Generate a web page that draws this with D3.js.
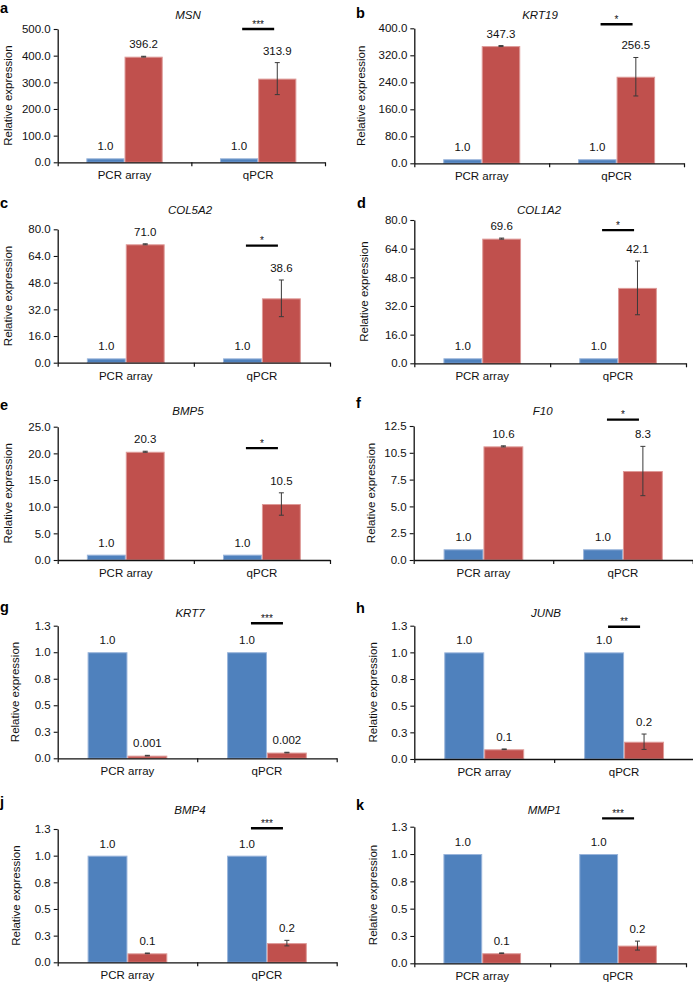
<!DOCTYPE html>
<html>
<head>
<meta charset="utf-8">
<script src="https://cdn.jsdelivr.net/npm/d3@7"></script>
<style>
  html, body { margin: 0; padding: 0; background: #fff; }
  svg { display: block; font-family: "Liberation Sans", Arial, Helvetica, sans-serif; }
</style>
</head>
<body>
<svg id="chart" width="693" height="985"></svg>
<script>
// ---------------- DATA ----------------
const panelLetters = ["a", "b", "c", "d", "e", "f", "g", "h", "j", "k"];
const geneNames = ["MSN", "KRT19", "COL5A2", "COL1A2", "BMP5", "F10", "KRT7", "JUNB", "BMP4", "MMP1"];
const categories = ["PCR array", "qPCR"];

// bar heights as drawn (control = blue, treated = red)
const controlValues = [[15, 15], [12, 12], [2.6, 2.6], [2.8, 2.8], [1, 1], [1, 1], [1, 1], [1, 1], [1, 1], [1, 1]];
const treatedValues = [[396.2, 313.9], [347.3, 256.5], [71.0, 38.6], [69.6, 42.1], [20.3, 10.5], [10.6, 8.3],
                       [0.025, 0.054], [0.091, 0.162], [0.084, 0.18], [0.092, 0.162]];
const treatedErrors = [[1.5, 60], [1.5, 57], [0.3, 11], [0.3, 15], [0.1, 2.1], [0.05, 2.3],
                       [0.003, 0.003], [0.003, 0.072], [0.003, 0.026], [0.003, 0.041]];
// printed value labels
const controlLabels = [["1.0", "1.0"], ["1.0", "1.0"], ["1.0", "1.0"], ["1.0", "1.0"], ["1.0", "1.0"],
                       ["1.0", "1.0"], ["1.0", "1.0"], ["1.0", "1.0"], ["1.0", "1.0"], ["1.0", "1.0"]];
const treatedLabels = [["396.2", "313.9"], ["347.3", "256.5"], ["71.0", "38.6"], ["69.6", "42.1"], ["20.3", "10.5"],
                       ["10.6", "8.3"], ["0.001", "0.002"], ["0.1", "0.2"], ["0.1", "0.2"], ["0.1", "0.2"]];
const yMaxValues = [500, 400, 80, 80, 25, 12.5, 1.25, 1.25, 1.25, 1.25];
const yTickLabels = [
  ["0.0", "100.0", "200.0", "300.0", "400.0", "500.0"],
  ["0.0", "80.0", "160.0", "240.0", "320.0", "400.0"],
  ["0.0", "16.0", "32.0", "48.0", "64.0", "80.0"],
  ["0.0", "16.0", "32.0", "48.0", "64.0", "80.0"],
  ["0.0", "5.0", "10.0", "15.0", "20.0", "25.0"],
  ["0.0", "2.5", "5.0", "7.5", "10.5", "12.5"],
  ["0.0", "0.3", "0.5", "0.8", "1.0", "1.3"],
  ["0.0", "0.3", "0.5", "0.8", "1.0", "1.3"],
  ["0.0", "0.3", "0.5", "0.8", "1.0", "1.3"],
  ["0.0", "0.3", "0.5", "0.8", "1.0", "1.3"]
];
const significance = ["***", "*", "*", "*", "*", "*", "***", "**", "***", "***"];
const yAxisTitle = "Relative expression";

// ---------------- LAYOUT (pixels) ----------------
const layout = [
  {x0: 57.7,  x1: 325,   top: 29,    base: 162.3, titleX: 188,   titleY: 19,    letterX: 0,   letterY: 13,    yLabX: 8.3,   sigV: 500},
  {x0: 414.3, x1: 684,   top: 28.3,  base: 163.3, titleX: 540,   titleY: 19,    letterX: 356, letterY: 18.3,  yLabX: 361,   sigV: 412},
  {x0: 57.7,  x1: 330,   top: 229.3, base: 362.7, titleX: 190,   titleY: 214,   letterX: 0,   letterY: 208.3, yLabX: 8.3,   sigV: 70.2},
  {x0: 414.3, x1: 686,   top: 220,   base: 363.3, titleX: 539,   titleY: 214,   letterX: 357, letterY: 208.3, yLabX: 363.7, sigV: 74.4},
  {x0: 57.7,  x1: 330,   top: 426.7, base: 560,   titleX: 188,   titleY: 414.7, letterX: 0,   letterY: 410,   yLabX: 8.3,   sigV: 21.0},
  {x0: 413.7, x1: 692.7, top: 426,   base: 560,   titleX: 542.7, titleY: 414.7, letterX: 356, letterY: 408,   yLabX: 371.3, sigV: 13.1},
  {x0: 57.7,  x1: 336.7, top: 625.7, base: 758.3, titleX: 190,   titleY: 617,   letterX: 0,   letterY: 612,   yLabX: 15,    sigV: 1.273},
  {x0: 414.3, x1: 694,   top: 625.7, base: 759,   titleX: 546,   titleY: 617,   letterX: 356, letterY: 613,   yLabX: 372.7, sigV: 1.24},
  {x0: 57.7,  x1: 336.7, top: 829,   base: 962.3, titleX: 190,   titleY: 814,   letterX: 0,   letterY: 807,   yLabX: 16,    sigV: 1.257},
  {x0: 414.3, x1: 686,   top: 826.7, base: 963.3, titleX: 544.3, titleY: 814,   letterX: 356, letterY: 810,   yLabX: 372.7, sigV: 1.327}
];

const COLORS = {
  control: "#4F81BD", controlEdge: "#9AB5DB",
  treated: "#C0504D", treatedEdge: "#DE9A98",
  axis: "#111", text: "#111", err: "#3a3a3a"
};
const FONT = 11.5;

const svg = d3.select("#chart");
svg.append("rect").attr("width", 693).attr("height", 985).attr("fill", "#fff");

panelLetters.forEach((letter, i) => {
  const L = layout[i];
  const g = svg.append("g").attr("class", "panel-" + letter);
  const y = d3.scaleLinear().domain([0, yMaxValues[i]]).range([L.base, L.top]);
  const x = d3.scaleBand().domain(categories).range([L.x0, L.x1]);
  const xs = d3.scaleBand().domain(["control", "treated"]).range([0, x.bandwidth()])
    .paddingInner(0).paddingOuter(0.75);
  const tickVals = d3.range(6).map(k => yMaxValues[i] * k / 5);

  // bars
  categories.forEach((cat, j) => {
    const cv = controlValues[i][j], tv = treatedValues[i][j], te = treatedErrors[i][j];
    const cx = x(cat) + xs("control"), tx = x(cat) + xs("treated"), bw = xs.bandwidth();
    g.append("rect")
      .attr("x", cx + 0.5).attr("y", y(cv) + 0.5)
      .attr("width", bw - 1).attr("height", Math.max(0, L.base - y(cv) - 0.5))
      .attr("fill", COLORS.control).attr("stroke", COLORS.controlEdge).attr("stroke-width", 1);
    g.append("rect")
      .attr("x", tx + 0.5).attr("y", y(tv) + 0.5)
      .attr("width", bw - 1).attr("height", Math.max(0, L.base - y(tv) - 0.5))
      .attr("fill", COLORS.treated).attr("stroke", COLORS.treatedEdge).attr("stroke-width", 1);

    // error bar on treated
    const ex = tx + bw / 2;
    const eTop = y(tv + te), eBot = y(Math.max(0, tv - te));
    g.append("line").attr("x1", ex).attr("x2", ex).attr("y1", eTop).attr("y2", eBot)
      .attr("stroke", COLORS.err).attr("stroke-width", 1);
    [eTop, eBot].forEach(yy => g.append("line")
      .attr("x1", ex - 2.5).attr("x2", ex + 2.5).attr("y1", yy).attr("y2", yy)
      .attr("stroke", COLORS.err).attr("stroke-width", 1));

    // value labels
    g.append("text").attr("x", cx + bw / 2).attr("y", y(cv) - 8)
      .attr("text-anchor", "middle").attr("font-size", FONT).attr("fill", COLORS.text)
      .text(controlLabels[i][j]);
    g.append("text").attr("x", ex).attr("y", Math.min(eTop, y(tv)) - 8)
      .attr("text-anchor", "middle").attr("font-size", FONT).attr("fill", COLORS.text)
      .text(treatedLabels[i][j]);
  });

  // y axis
  const ya = g.append("g").attr("transform", `translate(${L.x0},0)`)
    .call(d3.axisLeft(y).tickValues(tickVals).tickFormat((d, k) => yTickLabels[i][k])
      .tickSize(4).tickPadding(3).tickSizeOuter(0));
  ya.select(".domain").attr("stroke", COLORS.axis).attr("stroke-width", 1.3);
  ya.selectAll(".tick line").attr("stroke", COLORS.axis).attr("stroke-width", 1.1);
  ya.selectAll(".tick text").attr("font-size", FONT).attr("fill", COLORS.text)
    .attr("font-family", null);

  // x axis: category labels
  const xa = g.append("g").attr("transform", `translate(0,${L.base})`)
    .call(d3.axisBottom(x).tickSize(0).tickPadding(9).tickSizeOuter(0));
  xa.select(".domain").attr("stroke", COLORS.axis).attr("stroke-width", 1.3);
  xa.selectAll(".tick text").attr("font-size", FONT).attr("fill", COLORS.text)
    .attr("font-family", null);

  // x axis boundary ticks
  const xb = d3.scaleLinear().domain([0, categories.length]).range([L.x0, L.x1]);
  const xt = g.append("g").attr("transform", `translate(0,${L.base})`)
    .call(d3.axisBottom(xb).tickValues(d3.range(categories.length + 1)).tickFormat("").tickSize(4));
  xt.select(".domain").remove();
  xt.selectAll(".tick line").attr("stroke", COLORS.axis).attr("stroke-width", 1.2);

  // y-axis title
  g.append("text")
    .attr("transform", `translate(${L.yLabX},${(L.top + L.base) / 2}) rotate(-90)`)
    .attr("text-anchor", "middle").attr("dominant-baseline", "central")
    .attr("font-size", FONT).attr("fill", COLORS.text).text(yAxisTitle);

  // gene title
  g.append("text").attr("x", L.titleX).attr("y", L.titleY)
    .attr("text-anchor", "middle").attr("font-size", 11.5).attr("font-style", "italic")
    .attr("fill", COLORS.text).text(geneNames[i]);

  // panel letter
  g.append("text").attr("x", L.letterX).attr("y", L.letterY)
    .attr("font-size", 14.5).attr("font-weight", "bold").attr("fill", "#000").text(letter);

  // significance bar
  const sx = x(categories[1]) + x.bandwidth() / 2;
  const sy = y(L.sigV);
  g.append("line").attr("x1", sx - 16).attr("x2", sx + 16).attr("y1", sy).attr("y2", sy)
    .attr("stroke", "#000").attr("stroke-width", 2.3);
  g.append("text").attr("x", sx).attr("y", sy - 1.5)
    .attr("text-anchor", "middle").attr("font-size", 10).attr("fill", COLORS.text)
    .text(significance[i]);
});
</script>
</body>
</html>
